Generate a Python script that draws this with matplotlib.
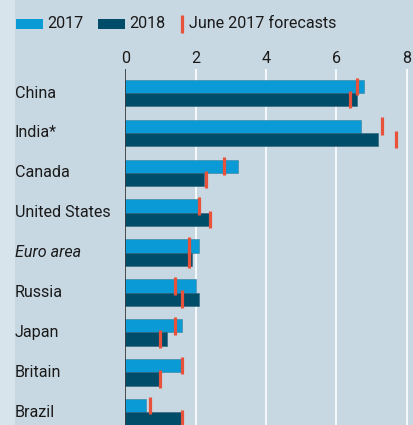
import matplotlib.pyplot as plt
import matplotlib.transforms as mtransforms
from matplotlib.patches import Rectangle
from matplotlib.lines import Line2D

# GDP growth, %
countries = ["China", "India*", "Canada", "United States", "Euro area",
             "Russia", "Japan", "Britain", "Brazil"]
g2017 = [6.8, 6.7, 3.2, 2.1, 2.1, 2.0, 1.6, 1.6, 0.6]
g2018 = [6.6, 7.2, 2.25, 2.4, 1.9, 2.1, 1.2, 1.0, 1.6]
# June 2017 forecasts
f2017 = [6.6, 7.3, 2.8, 2.1, 1.8, 1.4, 1.4, 1.6, 0.7]
f2018 = [6.4, 7.7, 2.3, 2.4, 1.8, 1.6, 1.0, 1.0, 1.6]
xticks = [0, 2, 4, 6, 8]

C17 = "#0a9ad5"
C18 = "#004d69"
RED = "#e8523a"
BG = "#c8d8e2"
BG_LEFT = "#d8e4ec"
FS = 11.6

plt.rcParams['font.family'] = ['Roboto', 'DejaVu Sans']

fig = plt.figure(figsize=(4.13, 4.25), dpi=100)
fig.patch.set_facecolor(BG)
fig.patches.append(Rectangle((0, 0), 15 / 413, 1, transform=fig.transFigure,
                             facecolor=BG_LEFT, edgecolor='none', zorder=-1))

W, H = 413, 425
ax = fig.add_axes([125.3 / W, 0, 1 - 125.3 / W, 1 - 69 / H])
ax.set_facecolor(BG)

bh = 0.333
ys = list(range(len(countries)))
ax.barh([y - bh / 2 for y in ys], g2017, height=bh, color=C17,
        edgecolor="#3a7f9c", linewidth=0.4, zorder=3)
ax.barh([y + bh / 2 for y in ys], g2018, height=bh, color=C18,
        edgecolor="#2e6078", linewidth=0.4, zorder=3)

mh = 0.22
for y, a, b in zip(ys, f2017, f2018):
    ax.plot([a, a], [y - bh / 2 - mh, y - bh / 2 + mh], color=RED, lw=2.3,
            solid_capstyle='butt', zorder=4)
    ax.plot([b, b], [y + bh / 2 - mh, y + bh / 2 + mh], color=RED, lw=2.3,
            solid_capstyle='butt', zorder=4)

ax.set_xlim(0, (W - 125.3) / 35.15)
ax.set_ylim((H - 93) / 39.9, -(93 - 69) / 39.9)

for s in ax.spines.values():
    s.set_visible(False)
ax.xaxis.tick_top()
ax.set_xticks(xticks)
ax.set_xticklabels([str(t) for t in xticks], fontsize=FS, color="#1a1a1a")
ax.tick_params(axis='x', length=0, pad=2)
ax.set_yticks([])
for t in xticks[1:]:
    ax.axvline(t, color="white", lw=1.2, zorder=1)
ax.axvline(0, color="#333333", lw=1.2, zorder=5)

# country labels, left aligned
trans = mtransforms.blended_transform_factory(fig.transFigure, ax.transData)
for y, name in zip(ys, countries):
    style = 'italic' if name == "Euro area" else 'normal'
    ax.text(15 / W, y, name, transform=trans, ha='left', va='center',
            fontsize=FS, style=style, color="#1a1a1a", clip_on=False)

# legend
ly = 1 - 24 / H
fig.patches.append(Rectangle((16 / W, ly - 5 / H), 27 / W, 10 / H,
                             transform=fig.transFigure, facecolor=C17, edgecolor='none'))
fig.text(47 / W, ly, "2017", ha='left', va='center', fontsize=FS, color="#1a1a1a")
fig.patches.append(Rectangle((98 / W, ly - 5 / H), 27 / W, 10 / H,
                             transform=fig.transFigure, facecolor=C18, edgecolor='none'))
fig.text(129 / W, ly, "2018", ha='left', va='center', fontsize=FS, color="#1a1a1a")
fig.lines.append(Line2D([182 / W, 182 / W], [ly - 9 / H, ly + 9 / H],
                        transform=fig.transFigure, color=RED, lw=2.3,
                        solid_capstyle='butt'))
fig.text(189 / W, ly, "June 2017 forecasts", ha='left', va='center',
         fontsize=FS, color="#1a1a1a")

fig.savefig("out.png", dpi=100, facecolor=fig.get_facecolor())
